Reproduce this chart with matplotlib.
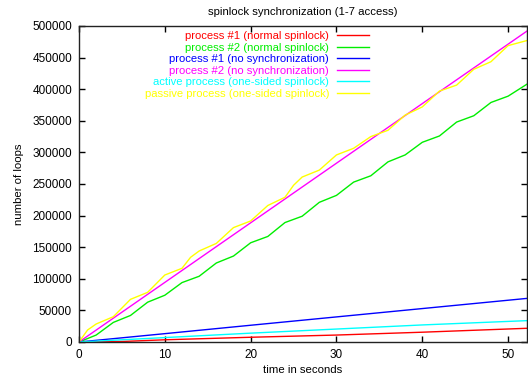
import matplotlib
matplotlib.use("Agg")
import matplotlib.pyplot as plt

plt.rcParams['font.family'] = ['Liberation Sans', 'DejaVu Sans']

# data
t_even = [0, 2, 4, 6, 8, 10, 12, 14, 16, 18, 20, 22, 24, 26, 28, 30, 32, 34, 36, 38, 40, 42, 44, 46, 48, 50, 52.2]

green = [0, 11000, 31000, 42000, 63000, 74000, 94000, 104000, 125000, 136000, 157000, 167000,
         189000, 199000, 221000, 232000, 253000, 263000, 285000, 296000, 316000, 326000,
         348000, 358000, 379000, 389000, 408000]

t_yellow = [0, 1, 2, 4, 6, 8, 10, 12, 13, 14, 16, 18, 20, 22, 24, 25, 26, 28, 30, 32, 34, 36, 38,
            40, 42, 44, 46, 48, 50, 52.2]
yellow = [0, 19000, 28500, 40000, 67500, 78600, 106000, 116600, 134000, 144000, 156000, 181000,
          191500, 216000, 229000, 248000, 261000, 272000, 296000, 306500, 325000, 335000, 359000,
          372000, 397000, 406500, 431500, 443500, 469000, 477000]

t_lin = [0, 10, 20, 30, 40, 52.2]
magenta = [0, 94300, 188600, 282900, 377200, 492000]
blue = [0, 13200, 26500, 39700, 52900, 69000]
cyan = [0, 7000, 14000, 20500, 27000, 33800]
t_red = [0, 5, 10, 20, 30, 40, 52.2]
red = [0, 800, 3500, 7500, 11000, 15500, 21700]

labels = ["process #1 (normal spinlock)", "process #2 (normal spinlock)",
          "process #1 (no synchronization)", "process #2 (no synchronization)",
          "active process (one-sided spinlock)", "passive process (one-sided spinlock)"]

fig = plt.figure(figsize=(5.28, 3.80), dpi=100)
ax = fig.add_axes([79/528, 1 - 342/380, (527-79)/528, 316/380])

ax.plot(t_red, red, color='#ff0000', lw=1, label=labels[0])
ax.plot(t_even, green, color='#00ee00', lw=1, label=labels[1])
ax.plot(t_lin, blue, color='#0000ff', lw=1, label=labels[2])
ax.plot(t_lin, magenta, color='#ff00ff', lw=1, label=labels[3])
ax.plot(t_lin, cyan, color='#00ffff', lw=1, label=labels[4])
ax.plot(t_yellow, yellow, color='#ffff00', lw=1, label=labels[5])

ax.set_xlim(0, 52.2)
ax.set_ylim(0, 500000)
ax.set_xticks([0, 10, 20, 30, 40, 50])
ax.set_yticks(range(0, 500001, 50000))
ax.tick_params(direction='in', top=True, right=True, length=4, width=1,
               labelsize=8.5, color='black', pad=5)
for s in ax.spines.values():
    s.set_linewidth(1)
    s.set_color('#222222')

ax.set_title("spinlock synchronization (1-7 access)", fontsize=8.2, pad=8)
ax.set_xlabel("time in seconds", fontsize=8.2, labelpad=3)
ax.set_ylabel("number of loops", fontsize=8.2, labelpad=6)

leg = ax.legend(loc='upper right', bbox_to_anchor=((369-79)/448, 1 - 5/316), frameon=False,
                markerfirst=False, labelcolor='linecolor', fontsize=8.1,
                handlelength=2.85, labelspacing=0.14, handletextpad=0.7,
                borderaxespad=0, borderpad=0)

fig.savefig("out.png", dpi=100)
